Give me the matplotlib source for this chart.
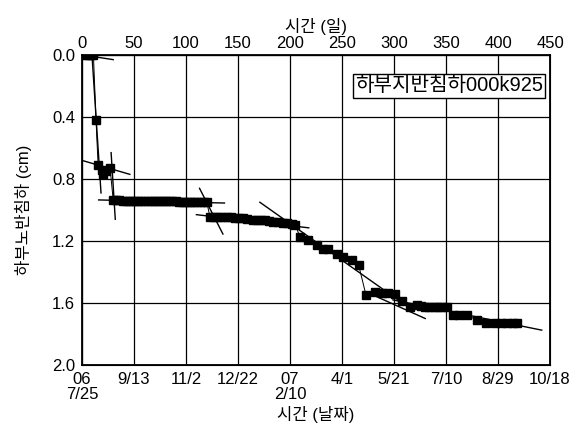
import matplotlib
matplotlib.use("Agg")
import matplotlib.pyplot as plt

plt.rcParams["font.family"] = ["Liberation Sans", "Noto Sans CJK KR", "DejaVu Sans"]

# measured settlement (day since 06/7/25, cm)
days = [3, 6, 9, 11, 13.5, 15.5, 19, 20, 23, 27,
        30, 33, 36, 39, 42, 45, 48, 51, 54, 57, 60, 63, 66, 69, 72, 75, 78, 81,
        84, 87, 90, 93, 96, 99, 102, 105, 108, 111, 114, 117, 120,
        123, 127, 131, 135, 139, 143, 147, 151, 155, 159, 164, 168, 172, 176,
        180, 184, 188, 193, 197, 202, 205,
        209.6, 217, 226, 232, 236.5, 245, 251, 259.6, 266,
        273, 282, 288, 294, 301, 307.7, 315, 322, 326, 330, 334, 338, 342, 346,
        351, 357, 362, 370, 380, 388, 397, 403, 408.6, 414, 418]
settle = [0.0, 0.0, 0.0, 0.0, 0.42, 0.71, 0.74, 0.77, 0.75, 0.73,
          0.935, 0.935, 0.935, 0.94, 0.94, 0.94, 0.94, 0.945, 0.945, 0.945, 0.945, 0.945, 0.945, 0.945, 0.945, 0.945, 0.945, 0.945,
          0.945, 0.945, 0.945, 0.95, 0.95, 0.95, 0.95, 0.95, 0.95, 0.95, 0.95, 0.95, 0.95,
          1.043, 1.045, 1.045, 1.045, 1.045, 1.045, 1.05, 1.05, 1.05, 1.055, 1.065, 1.065, 1.065, 1.065,
          1.07, 1.075, 1.08, 1.085, 1.085, 1.09, 1.095,
          1.174, 1.194, 1.226, 1.252, 1.252, 1.284, 1.303, 1.323, 1.355,
          1.548, 1.53, 1.535, 1.535, 1.54, 1.59, 1.625, 1.61, 1.62, 1.625, 1.625, 1.625, 1.625, 1.625,
          1.625, 1.68, 1.68, 1.68, 1.71, 1.73, 1.73, 1.73, 1.73, 1.73, 1.73]

# fitted line segments (start day, start cm, end day, end cm)
fit_d0 = [1, 9.6, 0, 28, 16, 113, 110, 171, 283.6, 299]
fit_s0 = [0.0, 0.0, 0.68, 0.63, 0.935, 0.86, 1.03, 0.95, 1.56, 1.58]
fit_d1 = [30, 18.3, 46, 32, 137, 135.5, 218, 306, 330, 442]
fit_s1 = [0.03, 0.89, 0.77, 1.06, 0.955, 1.155, 1.115, 1.59, 1.70, 1.775]

day_ticks = [0, 50, 100, 150, 200, 250, 300, 350, 400, 450]
date_labels = ["06\n7/25", "9/13", "11/2", "12/22", "07\n2/10",
               "4/1", "5/21", "7/10", "8/29", "10/18"]
cm_ticks = [0.0, 0.4, 0.8, 1.2, 1.6, 2.0]

fig = plt.figure(figsize=(5.79, 4.33), dpi=100)
ax = fig.add_axes([0.1416, 0.157, 0.8084, 0.716])

ax.plot(days, settle, "-s", color="black", lw=0.7, ms=6, zorder=3)
for a, b, c, d in zip(fit_d0, fit_s0, fit_d1, fit_s1):
    ax.plot([a, c], [b, d], color="black", lw=1.0, zorder=2)

ax.set_xlim(0, 450)
ax.set_ylim(2.0, 0.0)
ax.set_xticks(day_ticks)
ax.set_xticklabels(date_labels, linespacing=1.0)
ax.set_yticks(cm_ticks)
ax.set_yticklabels([f"{v:.1f}" for v in cm_ticks])
ax.tick_params(length=0, labelsize=12, pad=5)
ax.grid(True, color="black", lw=0.9)
for s in ax.spines.values():
    s.set_linewidth(1.3)

ax.set_xlabel("시간 (날짜)", fontsize=12, labelpad=3)
ax.set_ylabel("하부노반침하 (cm)", fontsize=12, labelpad=14)

top = ax.twiny()
top.set_xlim(0, 450)
top.set_xticks(day_ticks)
top.tick_params(length=0, labelsize=12, pad=3)
top.set_xlabel("시간 (일)", fontsize=12, labelpad=3)

ax.text(0.985, 0.9, "하부지반침하000k925", transform=ax.transAxes,
        ha="right", va="center", fontsize=14.5,
        bbox=dict(boxstyle="square,pad=0.12", fc="white", ec="black", lw=1.0),
        zorder=5)

fig.savefig("out.png", dpi=100)
